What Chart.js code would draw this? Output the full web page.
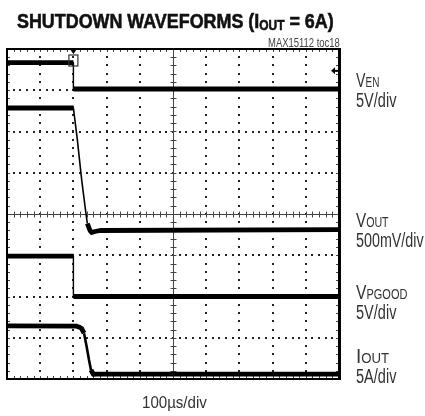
<!DOCTYPE html>
<html>
<head>
<meta charset="utf-8">
<script src="https://cdn.jsdelivr.net/npm/chart.js@4.4.1/dist/chart.umd.min.js"></script>
<style>
  body { margin: 0; background: #fff; }
  #wrap { position: relative; width: 425px; height: 416px; overflow: hidden; }
  #chart { position: absolute; left: 0; top: 0; }
  .lbl {
    position: absolute; white-space: nowrap; line-height: 1;
    font-family: 'Liberation Sans Narrow', 'Liberation Sans', Arial, sans-serif;
    transform-origin: 0 0; color: #333;
  }
  .lbl .sub { font-size: 0.7em; }
  .title { font-weight: bold; color: #111; font-size: 21px; -webkit-text-stroke: 0.6px #111; }
  .title .sub { font-size: 14px; vertical-align: -2px; }
  .ch { font-size: 20px; }
</style>
</head>
<body>
<div id="wrap">
  <canvas id="chart" width="425" height="416"></canvas>
  <div class="lbl title" data-w="317" style="left:17px;top:10px">SHUTDOWN WAVEFORMS (I<span class="sub">OUT</span> = 6A)</div>
  <div class="lbl" data-w="72" style="left:268px;top:36px;font-size:13px;color:#444">MAX15112 toc18</div>

  <div class="lbl ch" data-w="23.5" style="left:356px;top:70px">V<span class="sub">EN</span></div>
  <div class="lbl ch" data-w="40.7" style="left:356px;top:89.6px">5V/div</div>

  <div class="lbl ch" data-w="32.7" style="left:356px;top:210px">V<span class="sub">OUT</span></div>
  <div class="lbl ch" data-w="68" style="left:356px;top:230px">500mV/div</div>

  <div class="lbl ch" data-w="51" style="left:356px;top:282px">V<span class="sub">PGOOD</span></div>
  <div class="lbl ch" data-w="40.7" style="left:356px;top:302px">5V/div</div>

  <div class="lbl ch" data-w="33" style="left:356px;top:345.5px">I<span class="sub">OUT</span></div>
  <div class="lbl ch" data-w="40.7" style="left:356px;top:366px">5A/div</div>

  <div class="lbl" data-w="65" style="left:142px;top:394.8px;font-size:16px">100µs/div</div>
</div>
<script>
// Time axis (µs) and vertical divisions
const xTicks = [-200, -100, 0, 100, 200, 300, 400, 500, 600, 700, 800];
const yTicks = [0, 1, 2, 3, 4, 5, 6, 7, 8];
const minorPerDiv = 5;

// Traces in divisions (0 = bottom, 8 = top)
const venTime = [-200, 0, 0, 800];
const venDiv = [7.67, 7.67, 7.03, 7.03];

const voutTime = [-200, 0, 12, 25, 38, 42, 50, 55, 62, 80, 800];
const voutDiv = [6.57, 6.57, 5.79, 4.82, 4.0, 3.77, 3.6, 3.55, 3.57, 3.6, 3.62];

const pgoodTime = [-200, 0, 0, 800];
const pgoodDiv = [2.98, 2.98, 2.0, 2.0];

const ioutTime = [-200, 10, 20, 25, 32, 40, 47, 53, 60, 70, 800];
const ioutDiv = [1.29, 1.28, 1.25, 1.22, 1.11, 0.78, 0.46, 0.22, 0.11, 0.12, 0.12];

const triggerTime = 0;
const triggerLevel = 7.47;

// Stretch each text label to the width it has in the scope picture
function fitLabels() {
    document.querySelectorAll('.lbl').forEach(el => {
        el.style.transform = '';
        const w = parseFloat(el.dataset.w);
        el.style.transform = 'scaleX(' + (w / el.offsetWidth) + ')';
    });
}
fitLabels();
if (document.fonts) document.fonts.ready.then(fitLabels);

function toPoints(times, values) {
    return times.map((t, i) => ({ x: t, y: values[i] }));
}

// Thin line on steep edges, thick band on flat (noisy) parts
function trace(times, values, steepWidth) {
    return {
        data: toPoints(times, values),
        borderColor: '#000',
        borderWidth: 4.8,
        pointRadius: 0,
        tension: 0,
        borderJoinStyle: 'round',
        segment: {
            borderWidth: ctx => {
                const dx = Math.abs(ctx.p1.x - ctx.p0.x);
                const dy = Math.abs(ctx.p1.y - ctx.p0.y);
                return dy > dx * 3 ? steepWidth : 4.8;
            }
        }
    };
}

// Scope graticule: dotted grid, centre cross with ticks, frame ticks
const graticule = {
    id: 'graticule',
    beforeDatasetsDraw(chart) {
        const { ctx, chartArea: a, scales: { x, y } } = chart;
        const xMid = xTicks[(xTicks.length - 1) / 2];
        const yMid = yTicks[(yTicks.length - 1) / 2];
        const xStep = (xTicks[1] - xTicks[0]) / minorPerDiv;
        const yStep = (yTicks[1] - yTicks[0]) / minorPerDiv;
        ctx.save();
        ctx.fillStyle = '#222';

        // dots along vertical grid lines
        xTicks.slice(1, -1).forEach(t => {
            if (t === xMid) return;
            const px = Math.round(x.getPixelForValue(t));
            for (let v = yTicks[0]; v <= yTicks[yTicks.length - 1] + 1e-6; v += yStep) {
                ctx.fillRect(px - 1, Math.round(y.getPixelForValue(v)) - 1, 2, 2);
            }
        });
        // dots along horizontal grid lines
        yTicks.slice(1, -1).forEach(v => {
            if (v === yMid) return;
            const py = Math.round(y.getPixelForValue(v));
            for (let t = xTicks[0]; t <= xTicks[xTicks.length - 1] + 1e-6; t += xStep) {
                ctx.fillRect(Math.round(x.getPixelForValue(t)) - 1, py - 1, 2, 2);
            }
        });

        // centre cross
        ctx.strokeStyle = '#444';
        ctx.lineWidth = 1;
        const cx = Math.round(x.getPixelForValue(xMid)) + 0.5;
        const cy = Math.round(y.getPixelForValue(yMid)) + 0.5;
        ctx.beginPath();
        ctx.moveTo(a.left, cy); ctx.lineTo(a.right, cy);
        ctx.moveTo(cx, a.top); ctx.lineTo(cx, a.bottom);
        for (let t = xTicks[0]; t <= xTicks[xTicks.length - 1] + 1e-6; t += xStep) {
            const px = Math.round(x.getPixelForValue(t)) + 0.5;
            ctx.moveTo(px, cy - 3); ctx.lineTo(px, cy + 3);
            ctx.moveTo(px, a.top); ctx.lineTo(px, a.top + 3);
            ctx.moveTo(px, a.bottom); ctx.lineTo(px, a.bottom - 3);
        }
        for (let v = yTicks[0]; v <= yTicks[yTicks.length - 1] + 1e-6; v += yStep) {
            const py = Math.round(y.getPixelForValue(v)) + 0.5;
            ctx.moveTo(cx - 3, py); ctx.lineTo(cx + 3, py);
            ctx.moveTo(a.left, py); ctx.lineTo(a.left + 3, py);
            ctx.moveTo(a.right, py); ctx.lineTo(a.right - 3, py);
        }
        ctx.stroke();
        ctx.restore();
    },
    afterDatasetsDraw(chart) {
        const { ctx, chartArea: a, scales: { x, y } } = chart;
        ctx.save();
        ctx.strokeStyle = '#000';
        ctx.fillStyle = '#000';

        // frame
        ctx.lineWidth = 2;
        ctx.beginPath();
        ctx.moveTo(a.right, a.top); ctx.lineTo(a.left, a.top);
        ctx.lineTo(a.left, a.bottom); ctx.lineTo(a.right, a.bottom);
        ctx.stroke();
        ctx.lineWidth = 3;
        ctx.beginPath();
        ctx.moveTo(a.right + 0.5, a.top - 1); ctx.lineTo(a.right + 0.5, a.bottom + 1);
        ctx.stroke();

        // trigger position marker on top edge and box on the trace
        const tx = x.getPixelForValue(triggerTime);
        ctx.beginPath();
        ctx.moveTo(tx - 3.5, a.top); ctx.lineTo(tx + 3.5, a.top); ctx.lineTo(tx, a.top + 5);
        ctx.closePath();
        ctx.fill();
        ctx.lineWidth = 1.2;
        ctx.strokeStyle = '#333';
        ctx.strokeRect(tx - 4.5, a.top + 6, 9, 11);

        // trigger level arrow on right edge
        const ly = y.getPixelForValue(triggerLevel);
        ctx.beginPath();
        ctx.moveTo(a.right - 8, ly); ctx.lineTo(a.right - 4, ly - 3.5); ctx.lineTo(a.right - 4, ly + 3.5);
        ctx.closePath();
        ctx.fill();
        ctx.lineWidth = 2;
        ctx.strokeStyle = '#000';
        ctx.beginPath();
        ctx.moveTo(a.right - 5, ly); ctx.lineTo(a.right, ly);
        ctx.stroke();
        ctx.restore();
    }
};

new Chart(document.getElementById('chart'), {
    type: 'line',
    data: {
        datasets: [
            trace(venTime, venDiv, 1.4),
            trace(voutTime, voutDiv, 1.6),
            trace(pgoodTime, pgoodDiv, 1.4),
            trace(ioutTime, ioutDiv, 2.6)
        ]
    },
    options: {
        responsive: false,
        animation: false,
        layout: { padding: { left: 7, right: 86, top: 49, bottom: 37 } },
        plugins: { legend: { display: false }, tooltip: { enabled: false } },
        scales: {
            x: {
                type: 'linear', display: false,
                min: xTicks[0], max: xTicks[xTicks.length - 1]
            },
            y: {
                type: 'linear', display: false,
                min: yTicks[0], max: yTicks[yTicks.length - 1]
            }
        }
    },
    plugins: [graticule]
});
</script>
</body>
</html>
